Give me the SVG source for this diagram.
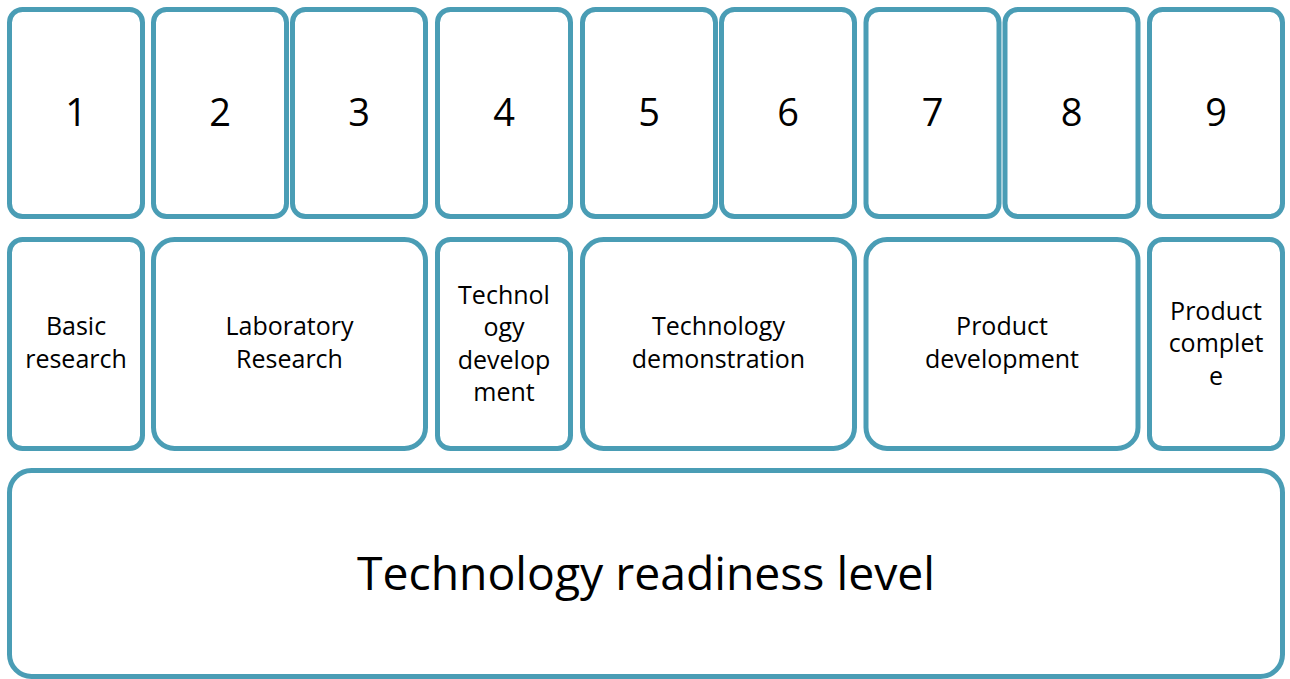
<svg xmlns="http://www.w3.org/2000/svg" width="1290" height="679" viewBox="0 0 1290 679">
  <style>
    .box { fill: #ffffff; stroke: #4a9db5; stroke-width: 5; }
    .lbl { font-family: "Open Sans", Lato, sans-serif; fill: #000000; text-anchor: middle; font-variant-ligatures: none; }
    .num { font-size: 38px; }
    .mid { font-size: 25px; }
    .big { font-size: 46.3px; }
  </style>
  <rect width="1290" height="679" fill="#ffffff"/>

  <!-- Level numbers -->
  <g id="level-1"><rect class="box" x="9.5" y="9.5" width="133" height="207" rx="13"/><text class="lbl num" x="76" y="126">1</text></g>
  <g id="level-2"><rect class="box" x="153.5" y="9.5" width="133" height="207" rx="13"/><text class="lbl num" x="220" y="126">2</text></g>
  <g id="level-3"><rect class="box" x="292.5" y="9.5" width="133" height="207" rx="13"/><text class="lbl num" x="359" y="126">3</text></g>
  <g id="level-4"><rect class="box" x="437.5" y="9.5" width="133" height="207" rx="13"/><text class="lbl num" x="504" y="126">4</text></g>
  <g id="level-5"><rect class="box" x="582.5" y="9.5" width="133" height="207" rx="13"/><text class="lbl num" x="649" y="126">5</text></g>
  <g id="level-6"><rect class="box" x="721.5" y="9.5" width="133" height="207" rx="13"/><text class="lbl num" x="788" y="126">6</text></g>
  <g id="level-7"><rect class="box" x="866" y="9.5" width="133" height="207" rx="13"/><text class="lbl num" x="932.5" y="126">7</text></g>
  <g id="level-8"><rect class="box" x="1005" y="9.5" width="133" height="207" rx="13"/><text class="lbl num" x="1071.5" y="126">8</text></g>
  <g id="level-9"><rect class="box" x="1149.5" y="9.5" width="133" height="207" rx="13"/><text class="lbl num" x="1216" y="126">9</text></g>

  <!-- Stage names -->
  <g id="stage-basic">
    <rect class="box" x="9.5" y="239.5" width="133" height="209" rx="13"/>
    <text class="lbl mid" x="76" y="335">Basic</text>
    <text class="lbl mid" x="76" y="367.5">research</text>
  </g>
  <g id="stage-laboratory">
    <rect class="box" x="153.5" y="239.5" width="272" height="209" rx="21"/>
    <text class="lbl mid" x="289.5" y="335">Laboratory</text>
    <text class="lbl mid" x="289.5" y="367.5">Research</text>
  </g>
  <g id="stage-techdev">
    <rect class="box" x="437.5" y="239.5" width="133" height="209" rx="13"/>
    <text class="lbl mid" x="504" y="303.5">Technol</text>
    <text class="lbl mid" x="504" y="336">ogy</text>
    <text class="lbl mid" x="504" y="368.5">develop</text>
    <text class="lbl mid" x="504" y="401">ment</text>
  </g>
  <g id="stage-demonstration">
    <rect class="box" x="582.5" y="239.5" width="272" height="209" rx="21"/>
    <text class="lbl mid" x="718.5" y="335">Technology</text>
    <text class="lbl mid" x="718.5" y="367.5">demonstration</text>
  </g>
  <g id="stage-productdev">
    <rect class="box" x="866" y="239.5" width="272" height="209" rx="21"/>
    <text class="lbl mid" x="1002" y="335">Product</text>
    <text class="lbl mid" x="1002" y="367.5">development</text>
  </g>
  <g id="stage-complete">
    <rect class="box" x="1149.5" y="239.5" width="133" height="209" rx="13"/>
    <text class="lbl mid" x="1216" y="319.5">Product</text>
    <text class="lbl mid" x="1216" y="352">complet</text>
    <text class="lbl mid" x="1216" y="384.5">e</text>
  </g>

  <!-- Scale title -->
  <g id="trl">
    <rect class="box" x="9.5" y="470.5" width="1273" height="206" rx="22"/>
    <text class="lbl big" x="646" y="590">Technology readiness level</text>
  </g>

  <g id="connectors"/>
</svg>
